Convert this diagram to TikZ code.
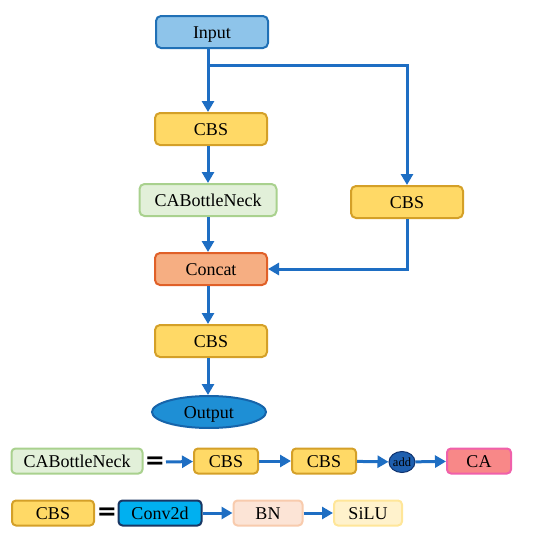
\documentclass[tikz,border=0pt]{standalone}
\usepackage{fontspec}
\setmainfont{Liberation Serif}
\newfontfamily\eqfont{DejaVu Sans}
\usetikzlibrary{arrows.meta,positioning,shapes.geometric}

\definecolor{flowblue}{RGB}{30,110,195}
\definecolor{inpfill}{RGB}{142,196,234}
\definecolor{inpline}{RGB}{32,112,182}
\definecolor{cbsfill}{RGB}{255,217,102}
\definecolor{cbsline}{RGB}{212,160,40}
\definecolor{cabfill}{RGB}{226,240,217}
\definecolor{cabline}{RGB}{169,209,142}
\definecolor{catfill}{RGB}{246,174,130}
\definecolor{catline}{RGB}{224,96,40}
\definecolor{outfill}{RGB}{30,143,213}
\definecolor{outline}{RGB}{22,100,170}
\definecolor{addfill}{RGB}{30,95,175}
\definecolor{addline}{RGB}{15,50,110}
\definecolor{cafill}{RGB}{248,136,136}
\definecolor{caline}{RGB}{240,96,170}
\definecolor{convfill}{RGB}{0,176,240}
\definecolor{convline}{RGB}{25,55,100}
\definecolor{bnfill}{RGB}{252,228,214}
\definecolor{bnline}{RGB}{248,203,173}
\definecolor{silufill}{RGB}{255,242,204}
\definecolor{siluline}{RGB}{255,230,153}

\begin{document}
\begin{tikzpicture}[
  x=1pt, y=-1pt,
  font=\fontsize{18}{21}\selectfont,
  flow/.style={draw=flowblue, line width=3pt, -{Triangle[length=11pt,width=12pt]}},
  blk/.style={draw, line width=2pt, rounded corners=5pt, inner sep=0pt,
    minimum width=112pt, minimum height=32pt, text height=12pt, text depth=0pt},
  small/.style={draw, line width=2pt, rounded corners=4pt, inner sep=0pt,
    minimum width=64pt, minimum height=25pt, text height=12pt, text depth=0pt},
  eq/.style={font=\eqfont\bfseries\fontsize{24}{24}\selectfont, inner sep=0pt}
]
  \useasboundingbox (0,0) rectangle (550,541);

  % Main column
  \node[blk, fill=inpfill, draw=inpline] (inp) at (212,32) {Input};
  \node[blk, fill=cbsfill, draw=cbsline] (cbs1) at (211,129) {CBS};
  \node[blk, fill=cabfill, draw=cabline, minimum width=137pt] (cab) at (208,200) {CABottleNeck};
  \node[blk, fill=catfill, draw=catline] (cat) at (211,269) {Concat};
  \node[blk, fill=cbsfill, draw=cbsline] (cbs2) at (211,341) {CBS};
  \node[ellipse, draw=outline, fill=outfill, line width=2pt, inner sep=0pt,
    minimum width=114pt, minimum height=32pt, text height=12pt, text depth=0pt]
    (out) at (209,412) {Output};

  % Right branch
  \node[blk, fill=cbsfill, draw=cbsline] (cbsr) at (407,202) {CBS};
  \coordinate (split) at (208,65);

  \draw[flow] (inp.south -| split) -- (cbs1.north -| split);
  \draw[flow] (split) -| (cbsr.north);
  \draw[flow] (cbs1.south -| split) -- (cab.north -| split);
  \draw[flow] (cab.south -| split) -- (cat.north -| split);
  \draw[flow] (cbsr.south) |- (cat.east);
  \draw[flow] (cat.south -| split) -- (cbs2.north -| split);
  \draw[flow] (cbs2.south -| split) -- (out.north -| split);

  % Legend: CABottleNeck
  \node[small, fill=cabfill, draw=cabline, minimum width=131pt] (lcab) at (77,461) {CABottleNeck};
  \node[eq] (eq1) at (155,463) {=};
  \coordinate (lstart) at (166,462);
  \node[small, fill=cbsfill, draw=cbsline] (lcbs1) at (226,461) {CBS};
  \node[small, fill=cbsfill, draw=cbsline] (lcbs2) at (324,461) {CBS};
  \node[ellipse, draw=addline, fill=addfill, line width=1pt, inner sep=0pt,
    minimum width=26pt, minimum height=21pt,
    font=\fontsize{12.5}{12}\selectfont] (add) at (402,462) {add};
  \node[small, fill=cafill, draw=caline] (ca) at (479,461) {CA};

  \draw[flow] (lstart) -- (lcbs1);
  \draw[flow] (lcbs1) -- (lcbs2);
  \draw[flow] (lcbs2) -- (add);
  \draw[flow] (add) -- (ca);

  % Legend: CBS
  \node[small, fill=cbsfill, draw=cbsline, minimum width=82pt] (lcbs) at (53,513) {CBS};
  \node[eq] (eq2) at (107,514) {=};
  \node[small, fill=convfill, draw=convline, minimum width=83pt] (conv) at (160,513) {Conv2d};
  \node[small, fill=bnfill, draw=bnline, minimum width=69pt] (bn) at (268,513) {BN};
  \node[small, fill=silufill, draw=siluline, minimum width=68pt] (silu) at (368,513) {SiLU};

  \draw[flow] (conv) -- (bn);
  \draw[flow] (bn) -- (silu);
\end{tikzpicture}
\end{document}
